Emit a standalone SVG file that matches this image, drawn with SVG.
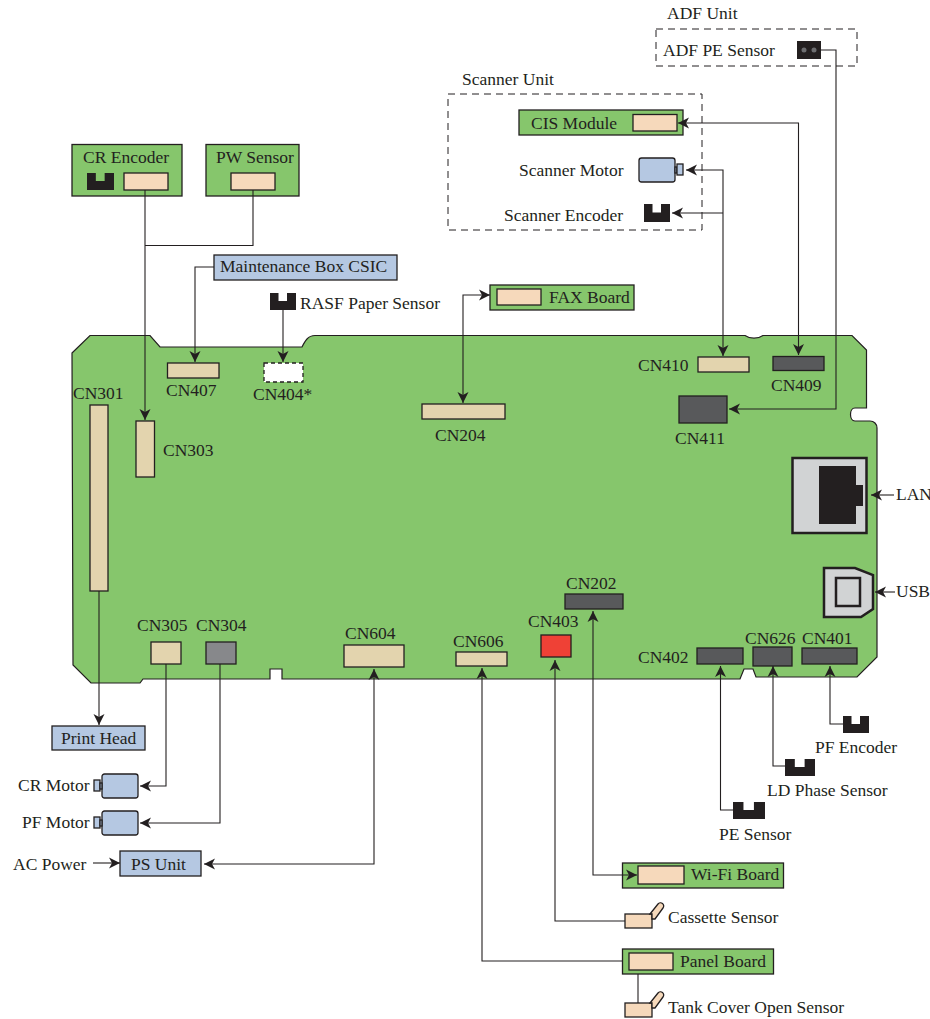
<svg xmlns="http://www.w3.org/2000/svg" width="930" height="1019" viewBox="0 0 930 1019">
<style>
text{font-family:"Liberation Serif","Times New Roman",serif;font-size:17.500px;fill:#231f20}
.s{stroke:#231f20;stroke-width:1.3}
.g{fill:#86c66c}.t{fill:#e3d4ae}.p{fill:#f6d9bb}.b{fill:#b5c8e2}.d{fill:#58595b}.k{fill:#231f20;stroke:none}
.c{fill:none;stroke:#231f20;stroke-width:1.1}
.e{fill:none;stroke:#231f20;stroke-width:1;stroke-dasharray:7 5}
</style>
<defs>
<marker id="a" markerUnits="userSpaceOnUse" markerWidth="12" markerHeight="12" refX="11" refY="6" orient="auto-start-reverse"><path d="M0,0.5L11,6L0,11.5L3,6Z" fill="#231f20"/></marker>
<symbol id="enc" viewBox="0 0 26 17" preserveAspectRatio="none"><path d="M0,0H8.500V8H17V0H26V17H0Z" fill="#231f20"/></symbol>
<g id="lever"><rect class="p s" x="0" y="0" width="27" height="14"/><path class="p s" d="M25,0L33,-10A3.2,3.2 0 0 1 38,-6L30,5L27,5L27,0Z"/></g>
<g id="motor-l"><rect class="b s" x="0" y="0" width="36" height="24" rx="2.5"/><rect class="b s" x="-8" y="6" width="6" height="11"/><rect class="b s" x="-2" y="9" width="2" height="6"/></g>
</defs>
<g id="board"><path class="g" stroke="#231f20" stroke-width="1.2" d="M72,353L90,335.500H150L160,347H302C305,341 308,335.500 315,335.500H745C750,339 758,339 763,335.500H852L866.500,350V408H855C849,408 849,421 855,421H870C874,421 877,424 877,428V657L857,677H756L753,669H744L740,679H282V669H270V679H143L140,683H91L73,665Z"/></g>
<g id="CN407"><rect class="t s" x="167.500" y="363" width="51.500" height="15"/><text x="166" y="396">CN407</text></g>
<g id="CN404"><rect fill="#fff" stroke="#231f20" stroke-width="1.3" stroke-dasharray="4 3" x="264" y="363" width="39" height="19"/><text x="253" y="400">CN404*</text></g>
<g id="CN301"><rect class="t s" x="90" y="405" width="18" height="186"/><text x="73" y="399">CN301</text></g>
<g id="CN303"><rect class="t s" x="136" y="421" width="18.500" height="56"/><text x="163" y="456">CN303</text></g>
<g id="CN204"><rect class="t s" x="422" y="404" width="83" height="15"/><text x="435" y="441">CN204</text></g>
<g id="CN410"><rect class="t s" x="698" y="357" width="51" height="15"/><text x="638" y="371">CN410</text></g>
<g id="CN409"><rect class="d s" x="773" y="356.500" width="51" height="14"/><text x="771" y="391">CN409</text></g>
<g id="CN411"><rect class="d s" x="679" y="396" width="48" height="27"/><text x="675" y="444">CN411</text></g>
<g id="LAN"><rect fill="#d1d3d4" stroke="#231f20" stroke-width="2.500" x="792.500" y="458" width="74" height="75"/><path class="k" d="M819,466H856V485H863V506H856V524H819Z"/><text x="896" y="500">LAN</text></g>
<g id="USB"><path fill="#d1d3d4" stroke="#231f20" stroke-width="2.500" d="M824,568H855L873,575V609L861,617H824Z"/><rect fill="#d1d3d4" stroke="#231f20" stroke-width="2.500" x="836" y="578" width="24" height="28"/><text x="896" y="597">USB</text></g>
<g id="CN202"><rect class="d s" x="565" y="594" width="58" height="15"/><text x="566" y="589">CN202</text></g>
<g id="CN403"><rect fill="#ef4136" stroke="#231f20" stroke-width="1.300" x="541" y="635" width="30" height="22"/><text x="528" y="627">CN403</text></g>
<g id="CN606"><rect class="t s" x="456" y="652" width="51" height="14"/><text x="453" y="647">CN606</text></g>
<g id="CN604"><rect class="t s" x="344" y="645" width="60" height="22"/><text x="345" y="639">CN604</text></g>
<g id="CN305"><rect class="t s" x="151" y="642" width="30" height="22"/><text x="137" y="631">CN305</text></g>
<g id="CN304"><rect fill="#87888b" stroke="#231f20" stroke-width="1.300" x="206" y="642" width="30" height="22"/><text x="196" y="631">CN304</text></g>
<g id="CN402"><rect class="d s" x="697" y="648" width="46" height="16"/><text x="638" y="663">CN402</text></g>
<g id="CN626"><rect class="d s" x="753" y="647" width="39" height="19"/><text x="745" y="644">CN626</text></g>
<g id="CN401"><rect class="d s" x="802" y="648" width="55" height="16"/><text x="802" y="644">CN401</text></g>
<g id="CR-Encoder"><rect class="g s" x="72" y="144.500" width="110" height="51.500"/><text x="83" y="163">CR Encoder</text><use href="#enc" x="87" y="173" width="27" height="17"/><rect class="p s" x="124" y="173" width="44" height="17"/></g>
<g id="PW-Sensor"><rect class="g s" x="206" y="144.500" width="93" height="51.500"/><text x="216" y="163">PW Sensor</text><rect class="p s" x="231" y="173" width="44" height="17"/></g>
<g id="Maintenance-Box"><rect class="b s" x="214" y="255" width="183" height="25"/><text x="220" y="272">Maintenance Box CSIC</text></g>
<g id="RASF"><use href="#enc" x="270" y="293" width="26" height="17"/><text x="300" y="309">RASF Paper Sensor</text></g>
<g id="FAX-Board"><rect class="g s" x="490" y="285" width="144" height="25"/><rect class="p s" x="497" y="289" width="44" height="16"/><text x="549" y="303">FAX Board</text></g>
<g id="Scanner-Unit"><rect class="e" x="448" y="94" width="254" height="136"/><text x="462" y="85">Scanner Unit</text></g>
<g id="ADF-Unit"><rect class="e" x="656" y="29" width="201" height="37"/><text x="667" y="19">ADF Unit</text></g>
<g id="ADF-PE"><text x="663" y="56">ADF PE Sensor</text><rect class="k" x="797" y="41" width="24" height="18"/><circle cx="804" cy="50" r="2.500" fill="#6d6e71"/><circle cx="814" cy="50" r="2.500" fill="#6d6e71"/></g>
<g id="CIS-Module"><rect class="g s" x="519" y="110" width="164" height="25"/><text x="531" y="129">CIS Module</text><rect class="p s" x="633" y="114.500" width="44" height="16.500"/></g>
<g id="Scanner-Motor"><text x="519" y="176">Scanner Motor</text><rect class="b s" x="639" y="158" width="36" height="24" rx="2.500"/><rect class="b s" x="675" y="167" width="2" height="6"/><rect class="b s" x="677" y="164" width="6" height="11"/></g>
<g id="Scanner-Encoder"><text x="504" y="221">Scanner Encoder</text><use href="#enc" x="644" y="204" width="26" height="18"/></g>
<g id="Print-Head"><rect class="b s" x="52" y="726" width="93" height="24"/><text x="61" y="744">Print Head</text></g>
<g id="CR-Motor"><text x="18" y="791">CR Motor</text><use href="#motor-l" x="102" y="774"/></g>
<g id="PF-Motor"><text x="22" y="828">PF Motor</text><use href="#motor-l" x="102" y="811"/></g>
<g id="AC-Power"><text x="13" y="870">AC Power</text></g>
<g id="PS-Unit"><rect class="b s" x="120" y="851" width="81" height="25"/><text x="131" y="870">PS Unit</text></g>
<g id="PF-Encoder"><use href="#enc" x="843" y="716" width="26" height="17"/><text x="815" y="753">PF Encoder</text></g>
<g id="LD-Phase"><use href="#enc" x="785" y="759" width="30" height="17"/><text x="767" y="796">LD Phase Sensor</text></g>
<g id="PE-Sensor"><use href="#enc" x="733" y="802" width="32" height="17"/><text x="719" y="840">PE Sensor</text></g>
<g id="WiFi-Board"><rect class="g s" x="622.500" y="863" width="161" height="25"/><rect class="p s" x="638" y="866" width="46" height="18"/><text x="691" y="880">Wi-Fi Board</text></g>
<g id="Cassette-Sensor"><use href="#lever" x="625" y="914"/><text x="668" y="923">Cassette Sensor</text></g>
<g id="Panel-Board"><rect class="g s" x="622.500" y="949" width="151" height="25"/><rect class="p s" x="629" y="953" width="44" height="17"/><text x="680" y="967">Panel Board</text></g>
<g id="Tank-Sensor"><use href="#lever" x="625" y="1003"/><text x="668" y="1013">Tank Cover Open Sensor</text></g>
<g id="connectors">
<path class="c" d="M145,190V420" marker-end="url(#a)"/>
<path class="c" d="M253,190V245.500H145"/>
<path class="c" d="M214,267H195V362" marker-end="url(#a)"/>
<path class="c" d="M283,310V362" marker-end="url(#a)"/>
<path class="c" d="M490,295H463V403" marker-start="url(#a)" marker-end="url(#a)"/>
<path class="c" d="M678,123H798.500V355" marker-start="url(#a)" marker-end="url(#a)"/>
<path class="c" d="M686,170H723V356" marker-start="url(#a)" marker-end="url(#a)"/>
<path class="c" d="M672,213H723" marker-start="url(#a)"/>
<path class="c" d="M821,50H836V409H729" marker-end="url(#a)"/>
<path class="c" d="M894,495H871" marker-end="url(#a)"/>
<path class="c" d="M895,592H875" marker-end="url(#a)"/>
<path class="c" d="M733,810H720.500V666" marker-end="url(#a)"/>
<path class="c" d="M785,766H773V666" marker-end="url(#a)"/>
<path class="c" d="M843,724H830V666" marker-end="url(#a)"/>
<path class="c" d="M593,611V875H637" marker-start="url(#a)" marker-end="url(#a)"/>
<path class="c" d="M625,921H555V660" marker-end="url(#a)"/>
<path class="c" d="M622,961H482V668" marker-end="url(#a)"/>
<path class="c" d="M374,669V864H204" marker-start="url(#a)" marker-end="url(#a)"/>
<path class="c" d="M220,664V823H140" marker-end="url(#a)"/>
<path class="c" d="M166,664V786H140" marker-end="url(#a)"/>
<path class="c" d="M99,591V725" marker-end="url(#a)"/>
<path class="c" d="M93,863H120" marker-end="url(#a)"/>
<path class="c" d="M638,974V1003"/>
</g>
</svg>
